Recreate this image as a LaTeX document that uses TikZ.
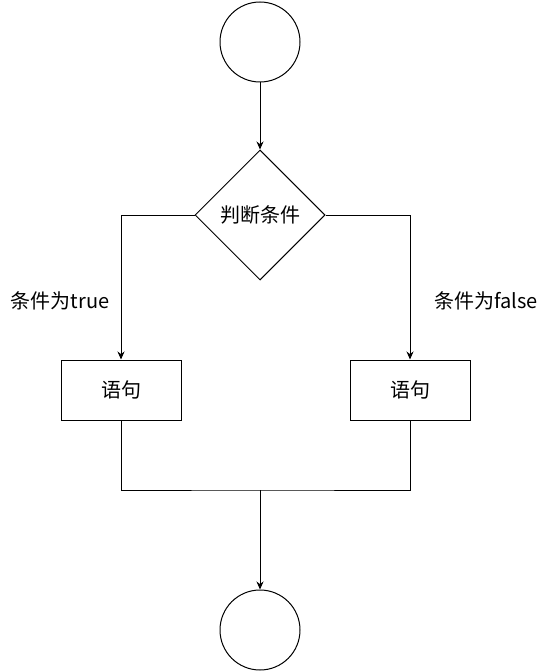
\documentclass[tikz,border=0pt]{standalone}
\usepackage{fontspec}
\setmainfont{Noto Sans CJK SC}
\usetikzlibrary{shapes.geometric,arrows.meta}
\begin{document}
\begin{tikzpicture}[x=1pt,y=-1pt,line width=1pt,
  txt/.style={font=\fontsize{20}{24}\selectfont},
  circ/.style={draw,circle,minimum size=80pt,inner sep=0pt},
  dec/.style={draw,diamond,minimum width=130pt,minimum height=130pt,inner sep=0pt,txt},
  stmt/.style={draw,rectangle,minimum width=120pt,minimum height=60pt,inner sep=0pt,txt},
  lbl/.style={inner sep=0pt,txt},
  arr/.style={-{Stealth[length=8pt,width=7pt]}}]
\useasboundingbox (0,0) rectangle (550,671);
\node[circ] (start) at (260,42) {};
\node[dec] (cond) at (260,215) {判断条件};
\node[stmt] (lbox) at (121,390) {语句};
\node[stmt] (rbox) at (410,390) {语句};
\node[circ] (stop) at (260,630) {};
\node[lbl] (lt) at (60,301) {条件为true};
\node[lbl] (lf) at (486,301) {条件为false};
\coordinate (m) at (260,490);
\draw[arr] (start) -- (cond);
\draw[arr] (cond.west) -| (lbox.north);
\draw[arr] (cond.east) -| (rbox.north);
\draw (lbox.south) |- (m) -| (rbox.south);
\draw[arr] (m) -- (stop.north);
\end{tikzpicture}
\end{document}
